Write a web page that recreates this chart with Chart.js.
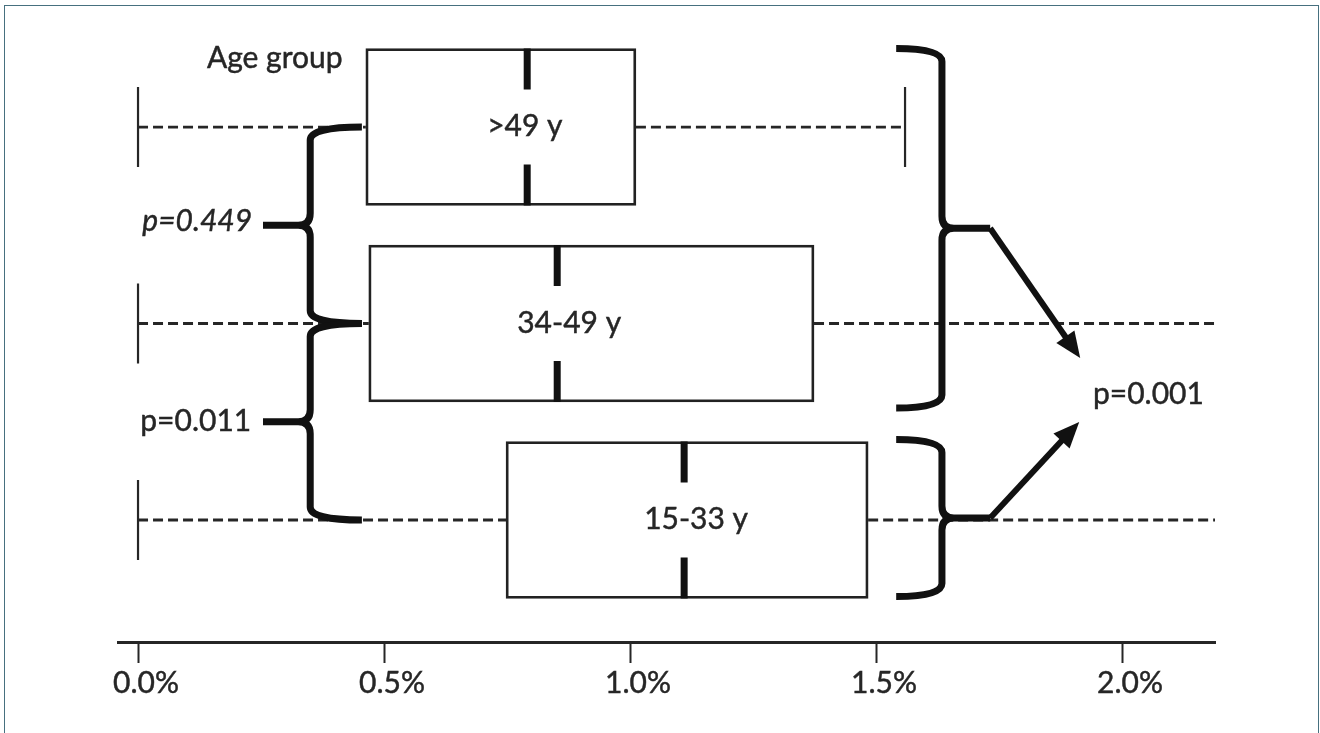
<!DOCTYPE html>
<html>
<head>
<meta charset="utf-8">
<script src="https://cdn.jsdelivr.net/npm/chart.js@4.4.1/dist/chart.umd.min.js"></script>
<style>
  html, body { margin: 0; padding: 0; background: #fff; overflow: hidden; }
  #wrap { position: relative; width: 1320px; height: 733px; }
  #wrap canvas { position: absolute; left: 0; top: 0; }
  #frame { position: absolute; left: 4px; top: 5px; width: 1313px; height: 780px;
           border: 1.5px solid #46707f; pointer-events: none; }
</style>
</head>
<body>
<div id="wrap">
  <canvas id="chart" width="1320" height="733"></canvas>
  <div id="frame"></div>
</div>
<script>
// Age groups, top to bottom, and their row positions on the value axis
const groups = ['>49 y', '34-49 y', '15-33 y'];
const groupPos = [3, 2, 1];

// Five-number summaries (percent)
const whiskerLow  = [0.0, 0.0, 0.0];
const boxLow      = [0.463, 0.469, 0.748];
const medians     = [0.791, 0.852, 1.110];
const boxHigh     = [1.012, 1.374, 1.484];
const whiskerHigh = [1.559, 2.45, 2.40];

// Axis ticks
const tickValues = [0, 0.5, 1.0, 1.5, 2.0];
const tickLabels = ['0.0%', '0.5%', '1.0%', '1.5%', '2.0%'];

// Significance labels
const pLabels = ['p=0.449', 'p=0.011', 'p=0.001'];
const axisTitle = 'Age group';

const FONT = 'Lato, "Open Sans", sans-serif';
const FONT_SIZE = 30;
const INK = '#262626';
const BLACK = '#111111';
const TEXT_STROKE = 0.45;

// Comparison brackets and annotations, placed in data coordinates
const notes = {
  leftBraces: [
    { end: 0.455, spine: 0.35, tip: 0.254, from: 3, to: 2 },
    { end: 0.455, spine: 0.35, tip: 0.254, from: 2, to: 1 }
  ],
  rightBraces: [
    { end: 1.541, spine: 1.634, tip: 1.732, from: 3.4, to: 1.57 },
    { end: 1.541, spine: 1.634, tip: 1.732, from: 1.41, to: 0.61 }
  ],
  arrowHeads: [ { x: 1.915, y: 1.824 }, { x: 1.913, y: 1.499 } ],
  texts: [
    { text: axisTitle, x: 0.140, y: 3.300, align: 'left',  italic: false },
    { text: pLabels[0], x: 0.232, y: 2.471, align: 'right', italic: true },
    { text: pLabels[1], x: 0.230, y: 1.453, align: 'right', italic: false },
    { text: pLabels[2], x: 1.941, y: 1.590, align: 'left',  italic: false }
  ]
};

function drawText(ctx, text, px, py) {
  ctx.fillText(text, px, py);
  ctx.strokeText(text, px, py);
}

function drawBrace(ctx, x, y, b) {
  const xe = x.getPixelForValue(b.end);
  const xs = x.getPixelForValue(b.spine);
  const xt = x.getPixelForValue(b.tip);
  const ya = y.getPixelForValue(b.from);
  const yb = y.getPixelForValue(b.to);
  const ym = (ya + yb) / 2;
  const r = 13, rt = 12;
  const st = Math.sign(xt - xs);
  ctx.beginPath();
  ctx.moveTo(xe, ya);
  ctx.quadraticCurveTo(xs, ya, xs, ya + r);
  ctx.lineTo(xs, ym - rt);
  ctx.quadraticCurveTo(xs, ym, xs + st * rt, ym);
  ctx.lineTo(xt, ym);
  ctx.moveTo(xe, yb);
  ctx.quadraticCurveTo(xs, yb, xs, yb - r);
  ctx.lineTo(xs, ym + rt);
  ctx.quadraticCurveTo(xs, ym, xs + st * rt, ym);
  ctx.lineTo(xt, ym);
  ctx.stroke();
  return { x: xt, y: ym };
}

function drawArrow(ctx, x0, y0, x1, y1) {
  const ang = Math.atan2(y1 - y0, x1 - x0);
  const len = 26, half = 11;
  const bx = x1 - len * Math.cos(ang), by = y1 - len * Math.sin(ang);
  ctx.beginPath();
  ctx.moveTo(x0, y0);
  ctx.lineTo(bx + 4 * Math.cos(ang), by + 4 * Math.sin(ang));
  ctx.stroke();
  ctx.beginPath();
  ctx.moveTo(x1, y1);
  ctx.lineTo(bx + half * Math.sin(ang), by - half * Math.cos(ang));
  ctx.lineTo(bx - half * Math.sin(ang), by + half * Math.cos(ang));
  ctx.closePath();
  ctx.fill();
}

const boxPlotParts = {
  id: 'boxPlotParts',
  beforeDatasetsDraw(chart) {
    const { ctx, chartArea: a, scales: { x, y } } = chart;
    ctx.save();
    ctx.beginPath();
    ctx.rect(a.left, 0, a.right - a.left, chart.height);
    ctx.clip();
    ctx.strokeStyle = INK;
    groups.forEach((g, i) => {
      const yc = y.getPixelForValue(groupPos[i]);
      // dashed whiskers
      ctx.lineWidth = 2.8;
      ctx.setLineDash([10, 5]);
      ctx.beginPath();
      ctx.moveTo(x.getPixelForValue(whiskerLow[i]), yc);
      ctx.lineTo(x.getPixelForValue(boxLow[i]), yc);
      ctx.moveTo(x.getPixelForValue(boxHigh[i]), yc);
      ctx.lineTo(x.getPixelForValue(whiskerHigh[i]), yc);
      ctx.stroke();
      // whisker end caps
      ctx.setLineDash([]);
      ctx.lineWidth = 2.2;
      ctx.beginPath();
      [whiskerLow[i], whiskerHigh[i]].forEach(v => {
        const px = x.getPixelForValue(v);
        ctx.moveTo(px, yc - 40);
        ctx.lineTo(px, yc + 40);
      });
      ctx.stroke();
    });
    ctx.restore();
  },
  afterDatasetsDraw(chart) {
    const { ctx, scales: { x, y } } = chart;
    const bars = chart.getDatasetMeta(0).data;
    ctx.save();
    // medians with a gap for the group label
    groups.forEach((g, i) => {
      const bar = bars[i];
      const top = bar.y - bar.height / 2, bottom = bar.y + bar.height / 2;
      const mx = x.getPixelForValue(medians[i]);
      ctx.strokeStyle = BLACK;
      ctx.lineWidth = 7;
      ctx.beginPath();
      ctx.moveTo(mx, top);
      ctx.lineTo(mx, top + 41);
      ctx.moveTo(mx, bottom - 41);
      ctx.lineTo(mx, bottom);
      ctx.stroke();
      ctx.fillStyle = INK;
      ctx.strokeStyle = INK;
      ctx.lineWidth = TEXT_STROKE;
      ctx.font = FONT_SIZE + 'px ' + FONT;
      ctx.textAlign = 'left';
      ctx.textBaseline = 'alphabetic';
      drawText(ctx, g, mx - 40, bar.y + 9);
    });
    // brackets
    ctx.strokeStyle = BLACK;
    ctx.fillStyle = BLACK;
    ctx.lineWidth = 7;
    ctx.lineJoin = 'round';
    notes.leftBraces.forEach(b => drawBrace(ctx, x, y, b));
    const tips = notes.rightBraces.map(b => drawBrace(ctx, x, y, b));
    ctx.lineWidth = 6;
    tips.forEach((t, i) => {
      const h = notes.arrowHeads[i];
      drawArrow(ctx, t.x, t.y, x.getPixelForValue(h.x), y.getPixelForValue(h.y));
    });
    // text annotations
    ctx.fillStyle = INK;
    ctx.strokeStyle = INK;
    ctx.lineWidth = TEXT_STROKE;
    ctx.lineJoin = 'miter';
    ctx.textBaseline = 'alphabetic';
    notes.texts.forEach(t => {
      ctx.font = (t.italic ? 'italic ' : '') + FONT_SIZE + 'px ' + FONT;
      ctx.textAlign = t.align;
      drawText(ctx, t.text, x.getPixelForValue(t.x), y.getPixelForValue(t.y));
    });
    ctx.restore();
  }
};

function build() {
  new Chart(document.getElementById('chart'), {
    type: 'bar',
    data: {
      datasets: [{
        label: 'Interquartile range',
        data: groups.map((g, i) => ({ x: [boxLow[i], boxHigh[i]], y: groupPos[i] })),
        backgroundColor: '#ffffff',
        borderColor: '#222222',
        borderWidth: 2.8,
        borderSkipped: false,
        barThickness: 157
      }]
    },
    options: {
      indexAxis: 'y',
      responsive: false,
      animation: false,
      devicePixelRatio: 1,
      layout: { padding: { left: 118, right: 105, top: 40, bottom: 0 } },
      plugins: { legend: { display: false }, tooltip: { enabled: false }, title: { display: false } },
      scales: {
        x: {
          type: 'linear',
          position: 'bottom',
          offset: false,
          min: -0.0407,
          max: 2.189,
          afterBuildTicks: s => { s.ticks = tickValues.map(v => ({ value: v })); },
          afterFit: s => { s.height = 91; },
          grid: { drawOnChartArea: false, drawTicks: true, tickLength: 21, tickWidth: 2, tickColor: INK },
          border: { display: true, color: INK, width: 3 },
          ticks: {
            autoSkip: false,
            maxRotation: 0,
            padding: 2,
            labelOffset: 8,
            color: INK,
            textStrokeColor: INK,
            textStrokeWidth: TEXT_STROKE,
            font: { family: FONT, size: FONT_SIZE },
            callback: v => tickLabels[tickValues.indexOf(v)] ?? ''
          }
        },
        y: {
          type: 'linear',
          display: false,
          offset: false,
          grace: 0,
          min: 0.379,
          max: 3.443,
          ticks: { display: false }
        }
      }
    },
    plugins: [boxPlotParts]
  });
}

if (document.fonts && document.fonts.load) {
  Promise.all([document.fonts.load('30px Lato'), document.fonts.load('italic 30px Lato')])
    .then(build, build);
} else {
  build();
}
</script>
</body>
</html>
